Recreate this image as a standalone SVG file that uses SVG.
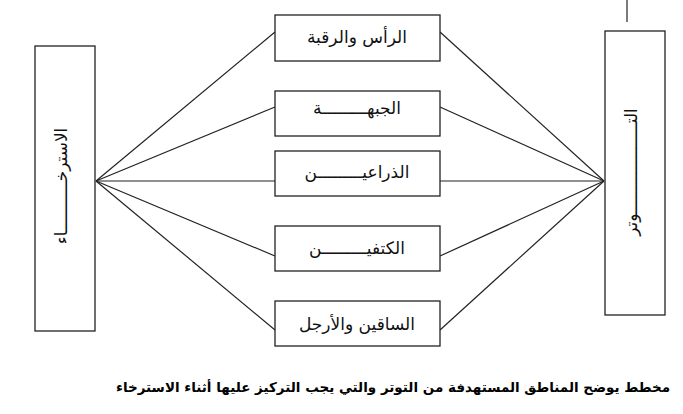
<svg xmlns="http://www.w3.org/2000/svg" width="683" height="414" viewBox="0 0 683 414">
<style>
.box{fill:#fff;stroke:#222;stroke-width:1.3}
.ln{stroke:#222;stroke-width:1.2;fill:none}
.t{font-family:"DejaVu Sans",sans-serif;font-size:17px;fill:#111;text-anchor:middle}
.cap{font-family:"DejaVu Sans",sans-serif;font-size:13.5px;font-weight:bold;fill:#000;text-anchor:middle}
</style>
<rect width="683" height="414" fill="#fff"/>
<line class="ln" x1="627" y1="0" x2="627" y2="22"/>
<g id="connectors">
<line class="ln" x1="96" y1="181" x2="275" y2="32"/>
<line class="ln" x1="96" y1="181" x2="275" y2="107"/>
<line class="ln" x1="96" y1="181" x2="275" y2="181"/>
<line class="ln" x1="96" y1="181" x2="275" y2="256"/>
<line class="ln" x1="96" y1="181" x2="275" y2="330"/>
<line class="ln" x1="604" y1="181" x2="440" y2="32"/>
<line class="ln" x1="604" y1="181" x2="440" y2="107"/>
<line class="ln" x1="604" y1="181" x2="440" y2="181"/>
<line class="ln" x1="604" y1="181" x2="440" y2="256"/>
<line class="ln" x1="604" y1="181" x2="440" y2="330"/>
</g>
<g id="relax">
<rect class="box" x="35" y="46" width="60" height="285"/>
<text class="t" transform="translate(67,186) rotate(-90)">الاسترخــــــــــاء</text>
</g>
<g id="tension">
<rect class="box" x="605" y="31" width="60" height="284"/>
<text class="t" transform="translate(637,172) rotate(-90)">التــــــــــــــــــوتر</text>
</g>
<g id="head">
<rect class="box" x="275" y="15" width="165" height="46"/>
<text class="t" x="357" y="43">الرأس والرقبة</text>
</g>
<g id="forehead">
<rect class="box" x="275" y="91" width="165" height="45"/>
<text class="t" x="357" y="114">الجبهـــــــــة</text>
</g>
<g id="arms">
<rect class="box" x="275" y="151" width="165" height="45"/>
<text class="t" x="357" y="178">الذراعيـــــــــن</text>
</g>
<g id="shoulders">
<rect class="box" x="275" y="226" width="165" height="45"/>
<text class="t" x="357" y="254">الكتفيـــــــــن</text>
</g>
<g id="legs">
<rect class="box" x="275" y="301" width="165" height="45"/>
<text class="t" x="357" y="330">الساقين والأرجل</text>
</g>
<text class="cap" x="393" y="392">مخطط يوضح المناطق المستهدفة من التوتر والتي يجب التركيز عليها أثناء الاسترخاء</text>
</svg>
